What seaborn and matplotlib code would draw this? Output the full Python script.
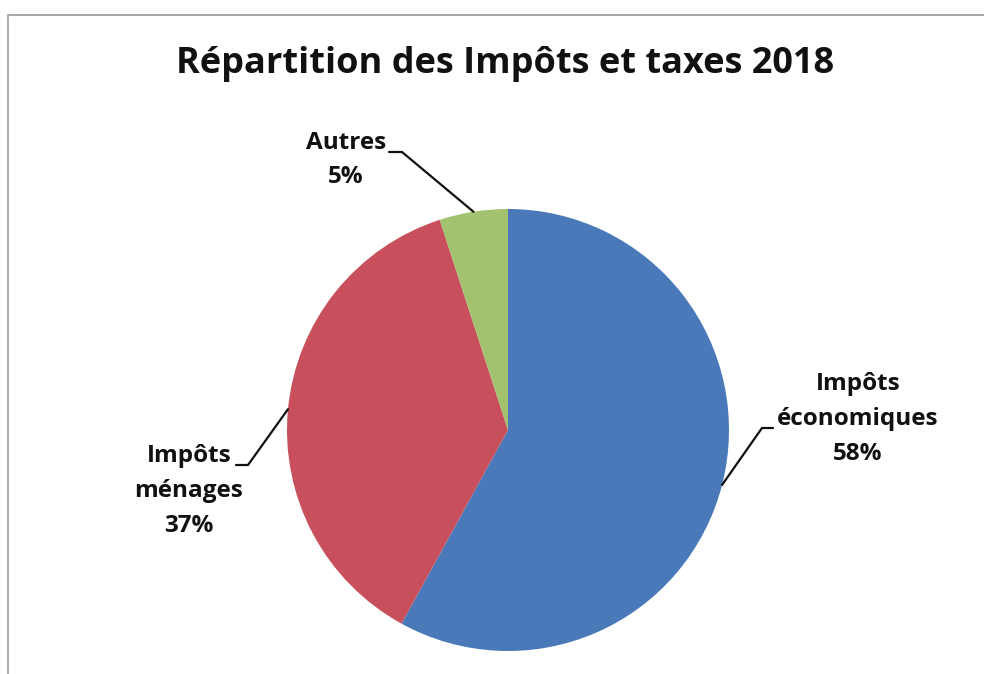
import numpy as np
import matplotlib
matplotlib.use("Agg")
import matplotlib.pyplot as plt
import seaborn as sns

# ---- data ----
categories = ["Impôts\néconomiques", "Impôts\nménages", "Autres"]
values = [58, 37, 5]
title = "Répartition des Impôts et taxes 2018"

# ---- style ----
colors = ["#4A79B9", "#C8505C", "#A3C270"]
W, H = 984, 674
sns.set_theme(style="white")
plt.rcParams['font.family'] = ['Open Sans', 'DejaVu Sans']

fig = plt.figure(figsize=(W / 100, H / 100), dpi=100)
ax = fig.add_axes([0, 0, 1, 1])

cx, cy, r = 508, H - 430, 221
wedges, _ = ax.pie(values, colors=colors, startangle=90, counterclock=False,
                   center=(cx, cy), radius=r, frame=True,
                   wedgeprops=dict(linewidth=0))
ax.set_xlim(0, W)
ax.set_ylim(0, H)
ax.set_aspect('equal')
ax.axis('off')

# frame of chart area
ax.plot([8, W], [H - 15, H - 15], color="#A8A8A8", lw=1.5)
ax.plot([8, 8], [H - 15, 0], color="#B0B0B0", lw=1.5)

ax.text(505, H - 64, title, ha='center', va='center',
        fontsize=26, fontweight='bold', color='#111111')

# label layout (pixel positions): text centre, elbow points (near pie -> near text)
label_pos = [(858, H - 419), (189, H - 491), (346, H - 160)]
elbows = [((762, H - 428), (773, H - 428)),
          ((248, H - 465), (236, H - 465)),
          ((402, H - 152), (389, H - 152))]

for w, cat, v, pos, (e1, e2) in zip(wedges, categories, values, label_pos, elbows):
    ax.text(pos[0], pos[1], f"{cat}\n{v}%", ha='center', va='center',
            fontsize=17.5, fontweight='bold', linespacing=1.6, color='#111111')
    ang = np.deg2rad((w.theta1 + w.theta2) / 2)
    px, py = cx + r * np.cos(ang), cy + r * np.sin(ang)
    ax.plot([px, e1[0], e2[0]], [py, e1[1], e2[1]], color='#111111', lw=1.6,
            solid_joinstyle='miter')

fig.savefig("out.png", dpi=100)
